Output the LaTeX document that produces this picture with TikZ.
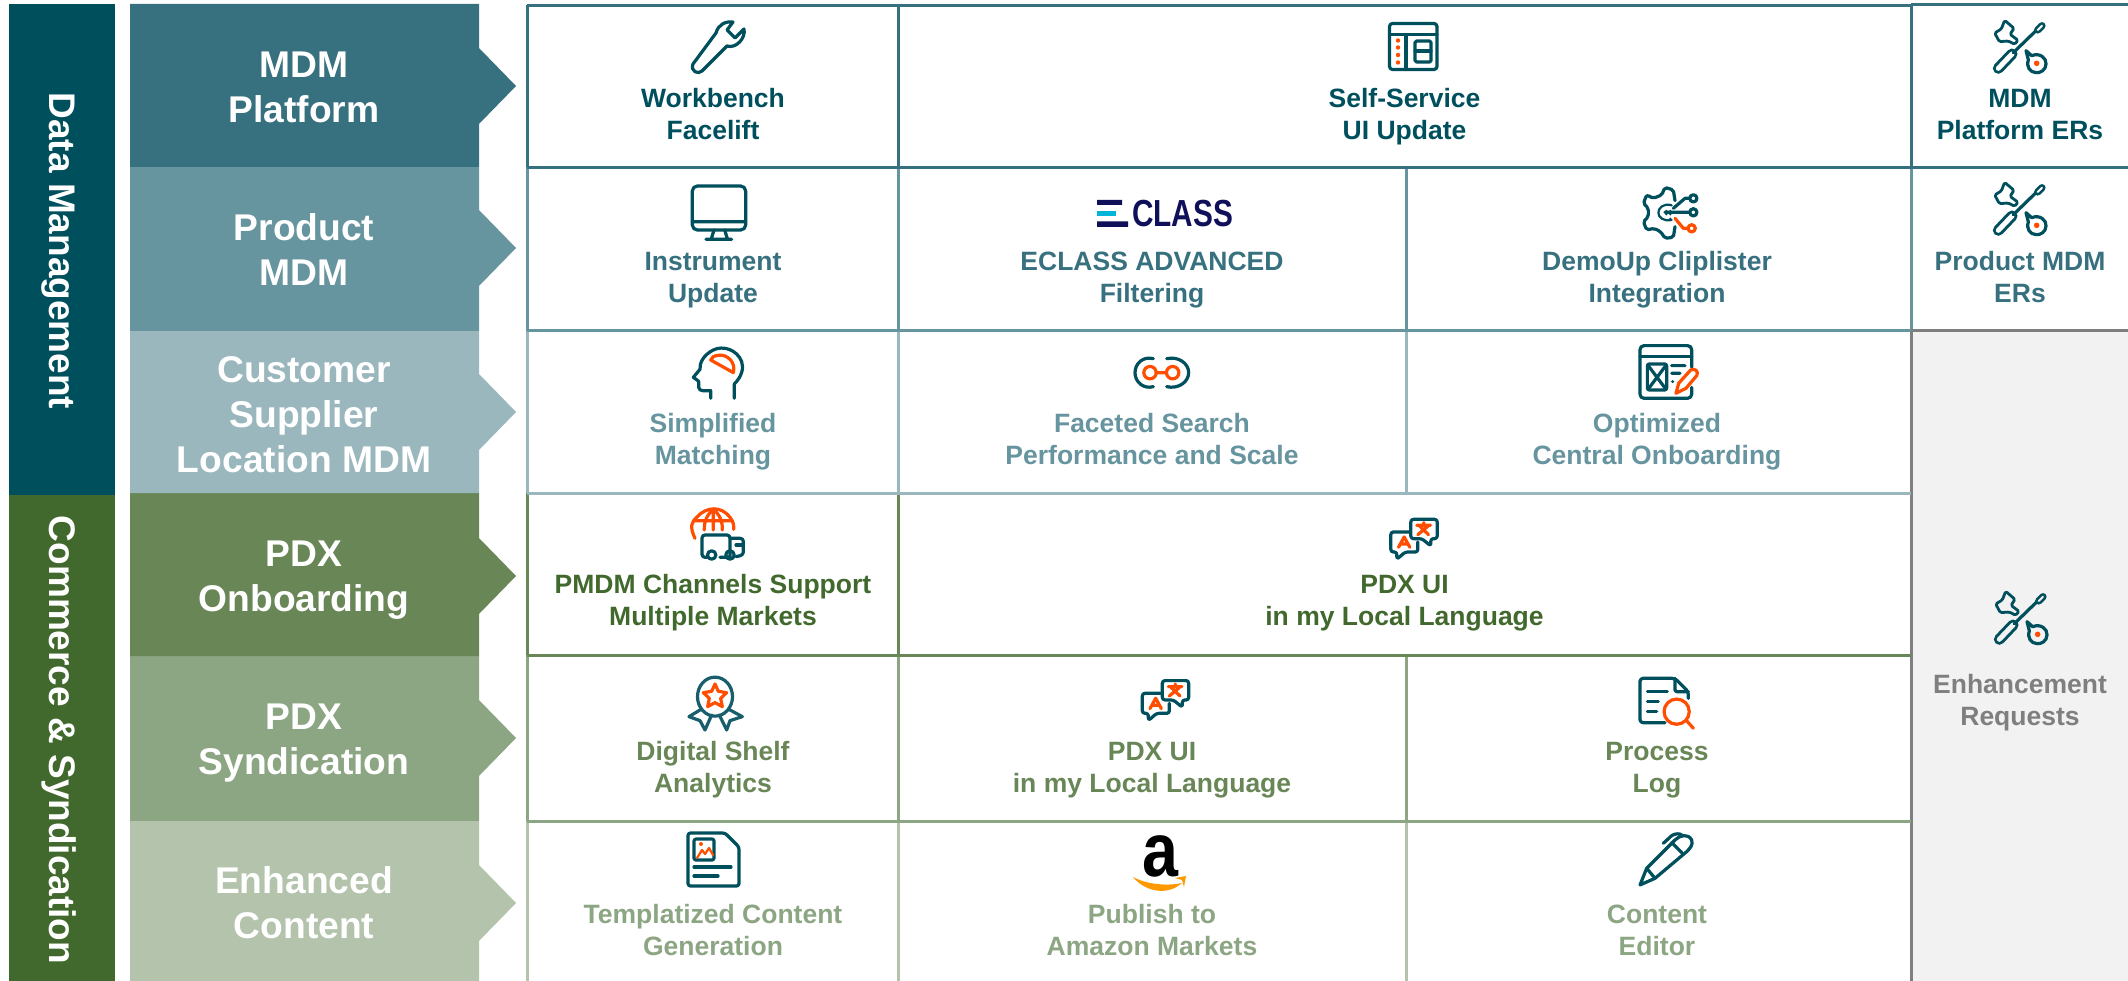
\documentclass[tikz,border=0pt]{standalone}
\usepackage{fontspec}
\setmainfont{Liberation Sans}
\definecolor{cA}{HTML}{004F5D}
\definecolor{cB}{HTML}{37707E}
\definecolor{cC}{HTML}{66949F}
\definecolor{cD}{HTML}{9AB7BD}
\definecolor{cE}{HTML}{42692D}
\definecolor{cF}{HTML}{688656}
\definecolor{cG}{HTML}{8CA582}
\definecolor{cH}{HTML}{B3C3AC}
\definecolor{cGrey}{HTML}{7F7F7F}
\definecolor{cPale}{HTML}{F2F2F2}
\definecolor{cOr}{HTML}{FF4E00}
\definecolor{cNavy}{HTML}{0F0F5A}
\definecolor{cCy}{HTML}{00B5D8}
\definecolor{cAm}{HTML}{FF9900}
\tikzset{
  celltext/.style={inner sep=0pt,anchor=south,align=center,font=\fontsize{26.5}{32}\selectfont\bfseries},
  lab/.style={inner sep=0pt,anchor=south,align=center,text=white,font=\fontsize{37.2}{45}\selectfont\bfseries},
  side/.style={inner sep=0pt,anchor=base,rotate=-90,text=white,font=\fontsize{37}{45}\selectfont\bfseries},
  ic/.style={draw=cA,line width=3.2pt,line cap=round,line join=round},
  icor/.style={draw=cOr,line width=3.2pt,line cap=round,line join=round},
  zm/.style={x=.3333pt,y=-.3333pt},
}
% name, x, last baseline, colour, text
\newcommand\cellT[5]{\node[celltext,text=#4] (#1) at (#2,#3+10.6) {#5\strut};}
\newcommand\labT[4]{\node[lab] (#1) at (304,#2+14) {#4\strut};}
\newcommand\band[4]{% top, bottom, tip y, colour
  \fill[#4] (130,#1) -- (479,#1) -- (479,#3-38) -- (516,#3) -- (479,#3+38) -- (479,#2) -- (130,#2) -- cycle;}
\newcommand\tools[3]{%
 \begin{scope}[shift={(#1,#2)},zm]
  \draw[draw=cA,line width=3pt,line cap=round,double=#3,double distance=5pt] (25,160) -- (66,117);
  \draw[ic] (70,113) -- (140,45);
  \draw[draw=cA,line width=2.6pt,line cap=round,double=#3,double distance=2pt] (143,45) -- (156,32);
  \draw[ic,line width=2.8pt,rounded corners=1.5pt] (44,16) -- (72,40) -- (60,58) -- (84,76) -- (74,88) -- (55,78) -- (28,80) -- (14,54) -- (34,42) -- cycle;
  \draw[ic] (108,107) -- (125,122) .. controls (150,112) and (170,130) .. (168,147) .. controls (168,165) and (150,175) .. (138,173) .. controls (120,172) and (108,155) .. (115,135) -- cycle;
  \fill[cOr] (140,145) circle[radius=2.8pt];
 \end{scope}}
\newcommand\translate[2]{%
 \begin{scope}[shift={(#1,#2)},zm]
  \draw[ic,rounded corners=2.5pt] (92,1030) -- (37,1030) -- (37,1090) -- (55,1090) -- (55,1112) -- (80,1090) -- (118,1090) -- (118,1060);
  \draw[ic,rounded corners=2.5pt] (97,992) -- (176,992) -- (176,1050) -- (157,1050) -- (157,1072) -- (130,1050) -- (97,1050) -- cycle;
  \draw[icor] (60,1076) -- (77,1045) -- (94,1076) (66,1066) -- (88,1066);
  \draw[icor] (115,1010) -- (156,1010) (136,1002) -- (136,1010) (123,1012) -- (150,1038) (149,1012) -- (118,1038);
 \end{scope}}
\begin{document}
\begin{tikzpicture}[x=1pt,y=-1pt]
\useasboundingbox (0,0) rectangle (2128,981);
\fill[white] (0,0) rectangle (2128,981);
% left bars
\fill[cA] (9,4) rectangle (115,495);
\fill[cE] (9,495) rectangle (115,981);
\node[side] (dm) at (49,251) {Data Management};
\node[side] (cs) at (49,740) {Commerce \& Syndication};
% bands
\band{656}{821}{738}{cG}
\band{821}{981}{903}{cH}
\band{493}{656}{576}{cF}
\band{331}{493}{412}{cD}
\band{167}{331}{248}{cC}
\band{4}{167}{86}{cB}
\labT{l1}{122.7}{cB}{MDM\\Platform}
\labT{l2}{285}{cC}{Product\\MDM}
\labT{l3}{472}{cD}{Customer\\Supplier\\Location MDM}
\labT{l4}{611.5}{cF}{PDX\\Onboarding}
\labT{l5}{774.5}{cG}{PDX\\Syndication}
\labT{l6}{938.5}{cH}{Enhanced\\Content}
% right grey panel
\fill[cPale] (1911,331) rectangle (2128,981);
% grid
\begin{scope}[line width=3pt]
 \draw[cH] (527.5,821) -- (527.5,981) (898,821) -- (898,981) (1406,821) -- (1406,981);
 \draw[cG] (527.5,655) -- (527.5,821) (898,655) -- (898,821) (1406,655) -- (1406,821);
 \draw[cF] (527.5,493) -- (527.5,655) (898,493) -- (898,655);
 \draw[cD] (527.5,331) -- (527.5,493) (898,331) -- (898,493) (1406,331) -- (1406,493);
 \draw[cC] (527.5,167.5) -- (527.5,331) (898,167.5) -- (898,331) (1406,167.5) -- (1406,331) (1911,167.5) -- (1911,331);
 \draw[cB] (527.5,5) -- (527.5,167.5) (898,5) -- (898,167.5) (1911,4) -- (1911,167.5);
 \draw[cGrey] (1911,331) -- (1911,981) (1911,331) -- (2128,331);
 \draw[cG] (527,821) -- (1911,821);
 \draw[cF] (527,655) -- (1911,655);
 \draw[cD] (527,493) -- (1911,493);
 \draw[cC] (527,331) -- (1911,331);
 \draw[cB] (527,167.5) -- (2128,167.5) (527,5.5) -- (1911,5.5) (1911,4.5) -- (2128,4.5);
\end{scope}
% cell texts
\cellT{a1}{713}{139}{cA}{Workbench\\Facelift}
\cellT{a2}{1404.5}{139}{cA}{Self-Service\\UI Update}
\cellT{a3}{2020}{139}{cA}{MDM\\Platform ERs}
\cellT{b1}{713}{302}{cB}{Instrument\\Update}
\cellT{b2}{1152}{302}{cB}{ECLASS ADVANCED\\Filtering}
\cellT{b3}{1657}{302}{cB}{DemoUp Cliplister\\Integration}
\cellT{b4}{2020}{302}{cB}{Product MDM\\ERs}
\cellT{c1}{713}{464}{cC}{Simplified\\Matching}
\cellT{c2}{1152}{464}{cC}{Faceted Search\\Performance and Scale}
\cellT{c3}{1657}{464}{cC}{Optimized\\Central Onboarding}
\cellT{d1}{713}{625}{cE}{PMDM Channels Support\\Multiple Markets}
\cellT{d2}{1404.5}{625}{cE}{PDX UI\\in my Local Language}
\cellT{e1}{713}{792}{cF}{Digital Shelf\\Analytics}
\cellT{e2}{1152}{792}{cF}{PDX UI\\in my Local Language}
\cellT{e3}{1657}{792}{cF}{Process\\Log}
\cellT{f1}{713}{955}{cG}{Templatized Content\\Generation}
\cellT{f2}{1152}{955}{cG}{Publish to\\Amazon Markets}
\cellT{f3}{1657}{955}{cG}{Content\\Editor}
\cellT{g1}{2020}{725}{cGrey}{Enhancement\\Requests}
% wrench
\begin{scope}[shift={(692,21)}]
 \draw[ic] (1,43) -- (24,12) .. controls (26,4) and (33,0) .. (41,1) -- (35,9) -- (43,17) -- (52,8) .. controls (54,17) and (44,28) .. (35,25) -- (10,50) .. controls (6,54) and (-2,50) .. (1,43) -- cycle;
\end{scope}
% self-service
\draw[ic,rounded corners=3pt] (1389.5,23.5) rectangle (1437,69.5);
\draw[ic] (1389.5,34.5) -- (1437,34.5) (1406,34.5) -- (1406,69.5) (1415,51) -- (1431,51);
\draw[ic,rounded corners=1.5pt] (1415,41) rectangle (1431,62);
\foreach \yy in {40.5,47.5,55,62.5} \fill[cOr] (1398,\yy) circle[radius=2.2pt];
% tools
\tools{1990}{15}{white}
\tools{1990}{177}{white}
\tools{1991}{586}{cPale}
% monitor
\begin{scope}[shift={(680,180)},zm]
 \draw[ic,rounded corners=5pt] (37,18) rectangle (197,150);
 \draw[ic] (37,125) -- (197,125) (102,150) -- (94,176) (134,150) -- (142,176) (78,178) -- (155,178);
% head
 \draw[ic] (163,655) -- (163,612) .. controls (185,590) and (192,565) .. (185,545) .. controls (172,510) and (130,495) .. (100,510) .. controls (70,525) and (58,550) .. (60,568) -- (40,592) -- (56,604) -- (56,622) .. controls (58,636) and (75,632) .. (92,632) -- (92,655);
 \draw[icor] (92,540) -- (160,578) .. controls (168,550) and (145,522) .. (115,526) .. controls (102,527) and (95,532) .. (92,540) -- cycle;
\end{scope}
% eclass
\fill[cNavy] (1097,200) rectangle (1122,205) (1097,221.5) rectangle (1128,227);
\fill[cCy] (1097,211) rectangle (1116,216);
\node[inner sep=0pt,anchor=base west,text=cNavy,xscale=.79,font=\fontsize{37.7}{40}\selectfont\bfseries] (ecl) at (1132,227) {CLASS};
% gear + optimized
\begin{scope}[shift={(1630,180)},zm]
 \draw[ic,rounded corners=2pt] (135,62) -- (130,30) -- (105,22) -- (95,45) -- (70,55) -- (50,45) -- (40,70) -- (55,85) -- (55,110) -- (40,125) -- (50,150) -- (72,145) -- (92,155) -- (105,175) -- (130,172) -- (135,140);
 \draw[ic,line width=2.2pt] (125,76) .. controls (100,68) and (85,85) .. (85,98) .. controls (85,112) and (100,125) .. (125,120);
 \draw[ic] (105,97) -- (178,97) (130,85) -- (165,55) -- (178,55);
 \draw[ic] (190,55) circle[radius=3.6pt] (190,97) circle[radius=3.6pt];
 \fill[cA] (109,93) circle[radius=1.2pt] (121,93) circle[radius=1.2pt] (121,103) circle[radius=1.2pt] (109,103) circle[radius=1.2pt] (121,116) circle[radius=1.2pt];
 \draw[icor] (135,115) -- (160,145) -- (173,145);
 \draw[icor] (185,145) circle[radius=3.6pt];
 % optimized
 \draw[ic,rounded corners=4pt] (185,562) -- (185,497) -- (30,497) -- (30,655) -- (185,655) -- (185,622);
 \draw[ic] (30,530) -- (185,530);
 \draw[ic,rounded corners=2pt] (52,552) rectangle (110,630);
 \draw[ic] (54,556) -- (108,628) (108,556) -- (54,628) (125,557) -- (165,557) (125,580) -- (150,580);
 \fill[cA] (128,605) circle[radius=1.6pt];
 \draw[icor] (138,640) -- (146,610) -- (182,570) .. controls (194,563) and (208,575) .. (200,587) -- (168,625) -- cycle;
\end{scope}
% binoculars & translate
\begin{scope}[shift={(1130,350)},zm]
 \draw[ic] (70,26) .. controls (40,18) and (15,40) .. (15,68) .. controls (15,96) and (40,118) .. (70,110);
 \draw[ic] (110,26) .. controls (145,18) and (176,40) .. (176,68) .. controls (176,96) and (145,118) .. (110,110);
 \draw[icor] (60,68) circle[radius=6.2pt] (128,68) circle[radius=6.2pt] (78,68) -- (110,68);
\end{scope}
\translate{1130}{350}
\translate{1378.5}{188.7}
% truck and medal
\begin{scope}[shift={(680,500)},zm]
 \draw[icor] (45,115) .. controls (28,80) and (35,65) .. (50,52) .. controls (80,18) and (125,18) .. (150,52) .. controls (160,65) and (162,75) .. (161,88);
 \draw[icor] (42,62) -- (157,62) (100,28) -- (100,90) (100,28) .. controls (80,45) and (72,65) .. (73,90) (100,28) .. controls (120,45) and (128,65) .. (127,90);
 \draw[ic,rounded corners=3pt] (80,172) -- (66,172) -- (66,105) -- (150,105) -- (150,170) (150,172) -- (120,172);
 \draw[ic,rounded corners=3pt] (150,115) -- (190,115) -- (190,165) -- (168,170);
 \draw[ic] (168,135) -- (190,135);
 \draw[ic] (95,165) circle[radius=4.2pt] (150,165) circle[radius=4.2pt];
 \draw[icor] (105,552) -- (115,574) -- (140,578) -- (122,595) -- (127,620) -- (105,608) -- (83,620) -- (88,595) -- (70,578) -- (95,574) -- cycle;
 \draw[line width=3.2pt,draw=cB!45!cA] (105,590) ellipse[x radius=17.5pt,y radius=19.5pt];
 \draw[line width=3.2pt,line join=round,line cap=round,draw=cB!45!cA] (60,630) -- (27,650) -- (60,662) -- (75,690) -- (95,645) (150,630) -- (187,650) -- (150,662) -- (140,690) -- (118,645);
\end{scope}
% process log + pen
\begin{scope}[shift={(1630,670)},zm]
 \draw[ic,rounded corners=3pt] (105,158) -- (30,158) -- (30,25) -- (135,25) -- (175,65) -- (175,85);
 \draw[ic,rounded corners=2pt] (135,25) -- (135,65) -- (175,65);
 \draw[ic] (52,65) -- (112,65) (52,95) -- (85,95) (52,125) -- (80,125);
 \draw[icor] (140,125) circle[radius=12.6pt] (168,150) -- (190,175);
 \draw[ic] (30,645) -- (50,595) -- (135,510) .. controls (150,495) and (175,490) .. (185,510) .. controls (190,525) and (180,535) .. (170,545) -- (75,625) -- cycle;
 \draw[ic] (50,595) -- (75,625) (125,518) -- (155,548) (100,520) -- (125,497) .. controls (135,490) and (150,490) .. (155,495);
\end{scope}
% template
\begin{scope}[shift={(687,832)}]
 \draw[ic,rounded corners=2.5pt] (31,1) -- (1,1) -- (1,54) -- (52,54) -- (52,15) -- (38,1) -- cycle;
 \draw[ic,rounded corners=2pt] (7,7) rectangle (27,28);
 \draw[ic] (7,35) -- (44,35) (7,44) -- (31,44);
 \fill[cOr] (14,12) circle[radius=2pt];
 \draw[icor,line width=2.2pt] (10,26) -- (15,18) -- (18,22) -- (22,16) -- (26,23);
\end{scope}
% amazon
\node[inner sep=0pt,anchor=base,xscale=.85,text=black,font=\fontsize{76}{80}\selectfont\bfseries] (amz) at (1160,876) {a};
\fill[cAm] (1133,877) .. controls (1145,892) and (1168,896) .. (1182,883) .. controls (1168,886) and (1148,885) .. (1133,877) -- cycle;
\fill[cAm] (1175,878) -- (1186,876) -- (1184,887) -- (1182,880) -- cycle;
\end{tikzpicture}
\end{document}
